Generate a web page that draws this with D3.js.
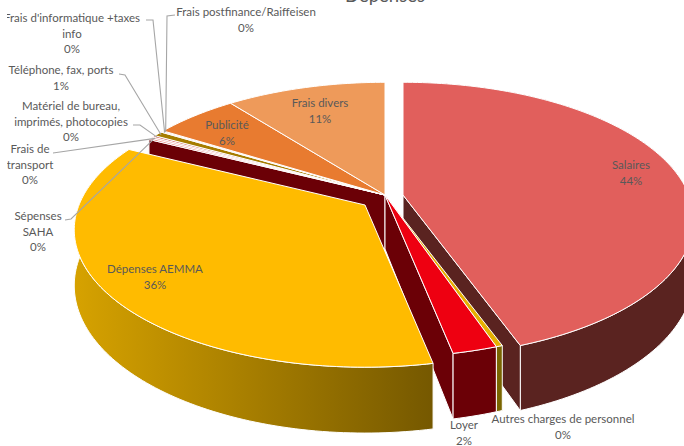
<!DOCTYPE html>
<html>
<head>
<meta charset="utf-8">
<script src="https://cdn.jsdelivr.net/npm/d3@7"></script>
<style>
  html, body { margin: 0; padding: 0; background: #fff; }
  text { font-family: Lato, "Open Sans", sans-serif; fill: #595959; font-size: 11.5px; }
</style>
</head>
<body>
<div id="chart"></div>
<script>
// data, clockwise from 12 o'clock
const categories = [
  "Salaires", "Autres charges de personnel", "Loyer", "Dépenses AEMMA",
  "Sépenses SAHA", "Frais de transport", "Matériel de bureau, imprimés, photocopies",
  "Téléphone, fax, ports", "Frais d'informatique +taxes info",
  "Frais postfinance/Raiffeisen", "Publicité", "Frais divers"
];
const values = [44.6, 0.3, 2.1, 35.7, 0.2, 0.2, 0.2, 0.6, 0.1, 0.1, 5.6, 10.6];

// styling, same order as categories
const topColors = [
  "#e15f5c", "#e6b000", "#ee0011", "#ffbb00", "#e4706c", "#eda3a0",
  "#c9504a", "#a67c00", "#e26b6b", "#f4b183", "#e87b30", "#ee9a5a"
];
const wallColors = [
  "#5a2320", "#7a6500", "#6b0006", "url(#yellowWall)", "#6b0006", "#6b0006",
  "#6b0006", "#6b0006", "#6b0006", "#6b0006", "#6b0006", "#6b0006"
];
const explode = {
  "Salaires": [18, 0],
  "Dépenses AEMMA": [-20, 10]
};

// label layout: lines, centre x, first baseline, optional leader start
const labelLayout = [
  { i: 0, lines: ["Salaires"], x: 631, y: 169 },
  { i: 1, lines: ["Autres charges de personnel"], x: 563, y: 423 },
  { i: 2, lines: ["Loyer"], x: 464, y: 429 },
  { i: 3, lines: ["Dépenses AEMMA"], x: 155, y: 273 },
  { i: 4, lines: ["Sépenses", "SAHA"], x: 38, y: 220, leader: [[65, 220], [71, 219]] },
  { i: 5, lines: ["Frais de", "transport"], x: 30, y: 153, leader: [[53, 153], [60, 152]] },
  { i: 6, lines: ["Matériel de bureau,", "imprimés, photocopies"], x: 71, y: 110, leader: [[133, 125], [140, 125]] },
  { i: 7, lines: ["Téléphone, fax, ports"], x: 61, y: 74, leader: [[119, 74], [125, 75]] },
  { i: 8, lines: ["Frais d'informatique +taxes", "info"], x: 72, y: 22, leader: [[146, 20], [153, 20]] },
  { i: 9, lines: ["Frais postfinance/Raiffeisen"], x: 246, y: 16, leader: [[175, 15], [167, 16]] },
  { i: 10, lines: ["Publicité"], x: 227, y: 129 },
  { i: 11, lines: ["Frais divers"], x: 320, y: 107 }
];

const width = 684, height = 446;
const cx = 385, cy = 195;
const radiusX = 286, radiusY = 133, perspective = 0.18, depth = 54;
const lineHeight = 15.6;

const svg = d3.select("#chart").append("svg")
  .attr("width", width)
  .attr("height", height)
  .style("display", "block");

const grad = svg.append("defs").append("linearGradient")
  .attr("id", "yellowWall")
  .attr("gradientUnits", "userSpaceOnUse")
  .attr("x1", 75).attr("x2", 434).attr("y1", 0).attr("y2", 0);
grad.append("stop").attr("offset", "0%").attr("stop-color", "#d6a200");
grad.append("stop").attr("offset", "100%").attr("stop-color", "#755800");

svg.append("clipPath").attr("id", "cutLeft")
  .append("rect").attr("x", 7).attr("y", 0).attr("width", width).attr("height", height);

const pie = d3.pie().sort(null);
const arcs = pie(values);

const xScale = d3.scaleLinear().domain([-1, 1]).range([-radiusX, radiusX]);
const yScale = d3.scaleLinear().domain([-1, 1]).range([-radiusY, radiusY]);

// angle + radius fraction to screen, with a simple perspective towards the viewer
function project(angle, r, offset, drop) {
  const X = r * Math.sin(angle), Y = -r * Math.cos(angle);
  const s = 1 / (1 - perspective * Y);
  return [
    cx + offset[0] + xScale(X) * s,
    cy + offset[1] + yScale(Y) * s + (drop ? depth * s : 0)
  ];
}

const line = d3.line();
const rimAngles = (a0, a1) => {
  const n = Math.max(2, Math.ceil((a1 - a0) / 0.02));
  return d3.range(n + 1).map(k => a0 + (a1 - a0) * k / n);
};
const offsetOf = d => explode[categories[d.index]] || [0, 0];

function drawPoly(pts, fill) {
  svg.append("path")
    .attr("d", line(pts) + "Z")
    .attr("fill", fill)
    .attr("stroke", "#fff")
    .attr("stroke-width", 1)
    .attr("stroke-linejoin", "round");
}

function drawTop(d) {
  const o = offsetOf(d);
  const pts = rimAngles(d.startAngle, d.endAngle).map(a => project(a, 1, o, false));
  drawPoly([project(0, 0, o, false), ...pts], topColors[d.index]);
}

function drawRim(d) {
  const o = offsetOf(d);
  const angles = rimAngles(d.startAngle, d.endAngle);
  const upper = angles.map(a => project(a, 1, o, false));
  const lower = angles.map(a => project(a, 1, o, true)).reverse();
  drawPoly([...upper, ...lower], wallColors[d.index]);
}

function drawCutWall(d, angle) {
  const o = offsetOf(d);
  drawPoly([
    project(angle, 0, o, false), project(angle, 1, o, false),
    project(angle, 1, o, true), project(angle, 0, o, true)
  ], wallColors[d.index]);
}

const salaires = arcs[0], autres = arcs[1], loyer = arcs[2], aemma = arcs[3];
const fixedBack = arcs.slice(4);

// painter's order, back to front
drawCutWall(salaires, salaires.startAngle);
drawRim(salaires);
drawCutWall(salaires, salaires.endAngle);
drawTop(salaires);

drawCutWall(fixedBack[0], fixedBack[0].startAngle);
drawCutWall(loyer, loyer.endAngle);
drawRim(autres);
drawRim(loyer);
[autres, loyer, ...fixedBack].forEach(drawTop);

drawRim(aemma);
drawTop(aemma);

// leader lines
svg.append("g").selectAll("path")
  .data(labelLayout.filter(l => l.leader))
  .join("path")
  .attr("d", l => {
    const d = arcs[l.i];
    const mid = (d.startAngle + d.endAngle) / 2;
    return line([...l.leader, project(mid, 0.985, [0, 0], false)]);
  })
  .attr("fill", "none")
  .attr("stroke", "#a6a6a6")
  .attr("stroke-width", 1.1);

// labels
const labels = svg.append("g").attr("clip-path", "url(#cutLeft)");
labelLayout.forEach(l => {
  const pct = d3.format(".0f")(values[l.i] / d3.sum(values) * 100) + "%";
  [...l.lines, pct].forEach((txt, k) => {
    labels.append("text")
      .attr("x", l.x)
      .attr("y", l.y + k * lineHeight)
      .attr("text-anchor", "middle")
      .text(txt);
  });
});

// title sits mostly above the crop
svg.append("text")
  .attr("x", 385).attr("y", 2)
  .attr("text-anchor", "middle")
  .style("font-size", "18.5px")
  .text("Dépenses");
</script>
</body>
</html>
